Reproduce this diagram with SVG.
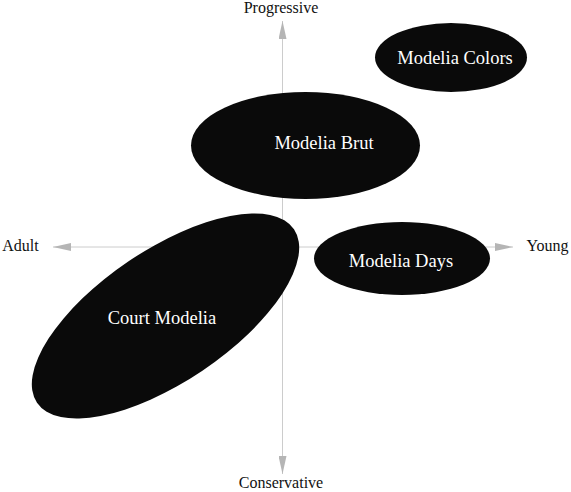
<svg xmlns="http://www.w3.org/2000/svg" width="571" height="492" viewBox="0 0 571 492">
<style>
.axis{stroke:#cccccc;stroke-width:1;fill:none}
.node{fill:#0a0a0a}
.lbl{font-family:"Liberation Serif","DejaVu Serif",serif;font-size:18.5px;fill:#ffffff;text-anchor:middle}
.ax{font-family:"Liberation Serif","DejaVu Serif",serif;font-size:16px;fill:#111111;text-anchor:middle}
</style>
<defs>
<marker id="arr" markerUnits="userSpaceOnUse" markerWidth="18" markerHeight="8" refX="18" refY="4" orient="auto-start-reverse" viewBox="0 0 18 8">
<path d="M0,0 L18,4 L0,8 z" fill="#b5b5b5"/>
</marker>
</defs>
<g id="connectors">
<line class="axis" x1="282.5" y1="21" x2="282.5" y2="474" marker-start="url(#arr)" marker-end="url(#arr)"/>
<line class="axis" x1="53" y1="247" x2="513" y2="247" marker-start="url(#arr)" marker-end="url(#arr)"/>
</g>
<g id="axis-labels">
<text class="ax" x="281" y="13">Progressive</text>
<text class="ax" x="281" y="488">Conservative</text>
<text class="ax" x="20.5" y="251">Adult</text>
<text class="ax" x="547.5" y="251">Young</text>
</g>
<g id="modelia-colors">
<ellipse class="node" cx="451" cy="57.5" rx="76" ry="34.5"/>
<text class="lbl" x="455" y="63.5">Modelia Colors</text>
</g>
<g id="modelia-brut">
<ellipse class="node" cx="305.5" cy="145.5" rx="114.5" ry="53.5"/>
<text class="lbl" x="324" y="149">Modelia Brut</text>
</g>
<g id="modelia-days">
<ellipse class="node" cx="402" cy="258.5" rx="88" ry="36.5"/>
<text class="lbl" x="401" y="266.5">Modelia Days</text>
</g>
<g id="court-modelia">
<ellipse class="node" cx="0" cy="0" rx="155" ry="66" transform="translate(165.5 316) rotate(-34)"/>
<text class="lbl" x="162" y="324">Court Modelia</text>
</g>
</svg>
